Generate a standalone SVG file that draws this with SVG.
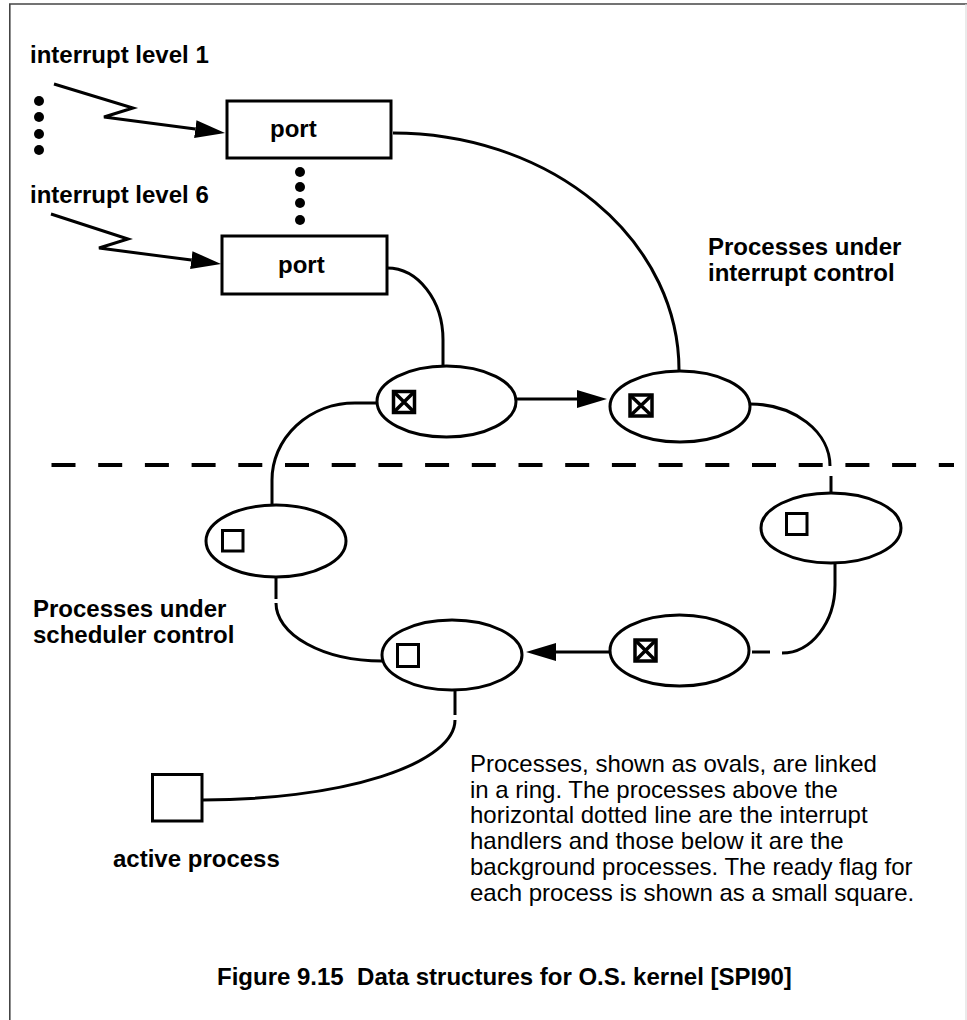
<svg xmlns="http://www.w3.org/2000/svg" width="967" height="1020" viewBox="0 0 967 1020">
<style>
.bold{font-family:"Liberation Sans",Arial,sans-serif;font-weight:bold;font-size:24px;fill:#000}
.reg{font-family:"Liberation Sans",Arial,sans-serif;font-size:24px;fill:#000}
.ln{fill:none;stroke:#000;stroke-width:3}
.shape{fill:#fff;stroke:#000;stroke-width:3}
.flag{fill:none;stroke:#000;stroke-width:3}
.flagx{fill:none;stroke:#000;stroke-width:3.5}
</style>
<defs>
<marker id="ah" markerUnits="userSpaceOnUse" viewBox="0 0 30 18" refX="0" refY="9" markerWidth="30" markerHeight="18" orient="auto">
<path d="M0,0 L30,9 L0,18 z" fill="#000"/>
</marker>
</defs>
<rect x="0" y="0" width="967" height="1020" fill="#fff"/>
<g id="frame">
<line x1="9.8" y1="4" x2="9.8" y2="1020" stroke="#444" stroke-width="1.6"/>
<line x1="9" y1="4" x2="967" y2="4" stroke="#444" stroke-width="1.6"/>
<line x1="966" y1="4" x2="966" y2="1020" stroke="#ddd" stroke-width="1.2"/>
</g>
<g id="connectors">
<path class="ln" d="M54,84 L133,108 L104,117 L195.3,129.1" marker-end="url(#ah)"/>
<path class="ln" d="M51,214 L128,239 L99,248 L191.3,260.1" marker-end="url(#ah)"/>
<path class="ln" d="M393,133 A286,237 0 0 1 679,370"/>
<path class="ln" d="M387,268 A56,72 0 0 1 443,340 L443,366"/>
<path class="ln" d="M516,399 L577,399" marker-end="url(#ah)"/>
<path class="ln" d="M750,404 A80,62 0 0 1 830,466"/>
<path class="ln" d="M831,476 L831,493"/>
<path class="ln" d="M835,563 L835,585 A53,68 0 0 1 782,653"/>
<path class="ln" d="M770,652 L752,652"/>
<path class="ln" d="M610,652 L556,652" marker-end="url(#ah)"/>
<path class="ln" d="M272,505 L272,480 A83,77 0 0 1 355,403 L377,403"/>
<path class="ln" d="M276,577 L276,599"/>
<path class="ln" d="M276,603 A106,58 0 0 0 382,661"/>
<path class="ln" d="M455,691 L455,715"/>
<path class="ln" d="M455,720 A252,80 0 0 1 203,800"/>
<line x1="51.5" y1="465" x2="954" y2="465" stroke="#000" stroke-width="4" stroke-dasharray="24 22.7"/>
</g>
<g id="dots">
<circle cx="39" cy="101" r="5"/>
<circle cx="39" cy="117" r="5"/>
<circle cx="39" cy="134" r="5"/>
<circle cx="39" cy="150" r="5"/>
<circle cx="300" cy="172" r="5"/>
<circle cx="300" cy="187" r="5"/>
<circle cx="300" cy="203" r="5"/>
<circle cx="300" cy="220" r="5"/>
</g>
<g id="labels">
<text class="bold" x="30" y="63">interrupt level 1</text>
<text class="bold" x="30" y="203">interrupt level 6</text>
<text class="bold" x="708" y="255">Processes under</text>
<text class="bold" x="708" y="281">interrupt control</text>
<text class="bold" x="33" y="617">Processes under</text>
<text class="bold" x="33" y="643">scheduler control</text>
<text class="bold" x="113" y="867">active process</text>
</g>
<g id="port1">
<rect class="shape" x="227" y="101" width="164" height="57"/>
<text class="bold" x="270" y="137">port</text>
</g>
<g id="port2">
<rect class="shape" x="222" y="236" width="165" height="58"/>
<text class="bold" x="278" y="273">port</text>
</g>
<g id="proc1">
<ellipse class="shape" cx="446.5" cy="401.5" rx="69.5" ry="35.5"/>
<rect class="flagx" x="393.5" y="391.5" width="21" height="21"/>
<path class="flagx" d="M393.5,391.5 L414.5,412.5 M414.5,391.5 L393.5,412.5"/>
</g>
<g id="proc2">
<ellipse class="shape" cx="680" cy="406.5" rx="70" ry="35.5"/>
<rect class="flagx" x="630" y="395" width="22" height="21"/>
<path class="flagx" d="M630,395 L652,416 M652,395 L630,416"/>
</g>
<g id="proc3">
<ellipse class="shape" cx="831" cy="528" rx="70" ry="35"/>
<rect class="flag" x="786.5" y="513.5" width="20.5" height="21"/>
</g>
<g id="proc4">
<ellipse class="shape" cx="679.5" cy="650.5" rx="69.5" ry="35.5"/>
<rect class="flagx" x="635" y="640" width="21" height="21"/>
<path class="flagx" d="M635,640 L656,661 M656,640 L635,661"/>
</g>
<g id="proc5">
<ellipse class="shape" cx="452" cy="655" rx="70" ry="35"/>
<rect class="flag" x="397.5" y="644.5" width="21" height="22"/>
</g>
<g id="proc6">
<ellipse class="shape" cx="276" cy="541" rx="70" ry="36"/>
<rect class="flag" x="222.5" y="530.5" width="20.5" height="20.5"/>
</g>
<g id="active">
<rect class="shape" x="152.5" y="774.5" width="49.5" height="46.5"/>
</g>
<g id="description">
<text class="reg" x="470" y="772">Processes, shown as ovals, are linked</text>
<text class="reg" x="470" y="798">in a ring. The processes above the</text>
<text class="reg" x="470" y="823">horizontal dotted line are the interrupt</text>
<text class="reg" x="470" y="849">handlers and those below it are the</text>
<text class="reg" x="470" y="875">background processes. The ready flag for</text>
<text class="reg" x="470" y="901">each process is shown as a small square.</text>
</g>
<g id="caption">
<text class="bold" x="217" y="985" xml:space="preserve">Figure 9.15  Data structures for O.S. kernel [SPI90]</text>
</g>
</svg>
